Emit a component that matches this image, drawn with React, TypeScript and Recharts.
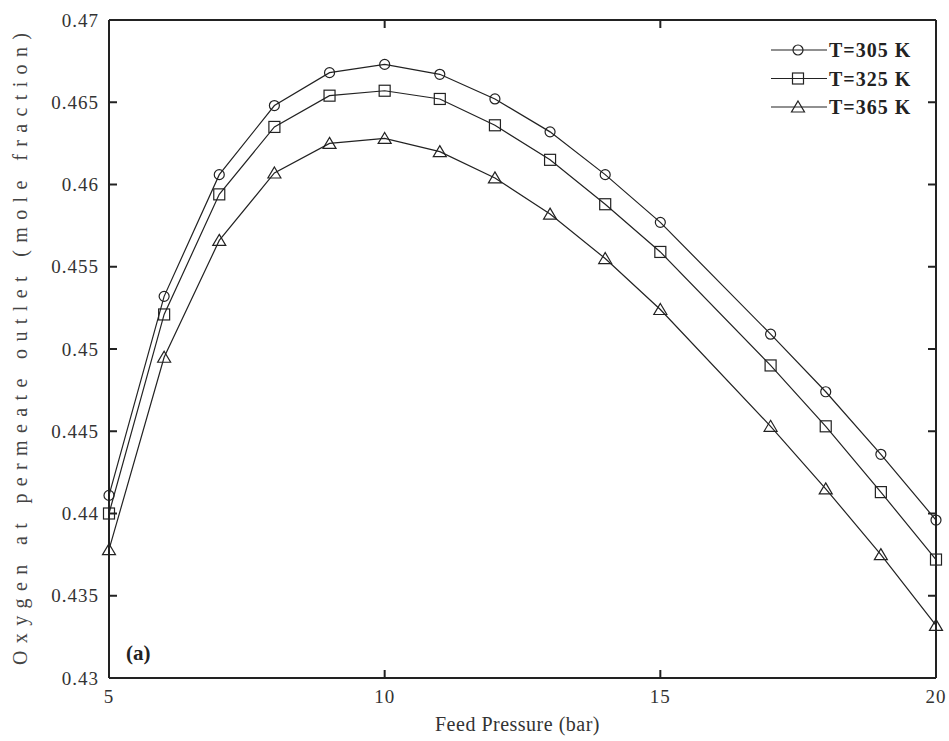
import React from 'react';
import { ComposedChart, Line, Scatter, XAxis, YAxis, Legend } from 'recharts';

// Feed pressure (bar) at which the permeate oxygen fraction was evaluated
const pressure = [5, 6, 7, 8, 9, 10, 11, 12, 13, 14, 15, 17, 18, 19, 20];

// Oxygen mole fraction at the permeate outlet for each temperature
const t305 = [0.4411, 0.4532, 0.4606, 0.4648, 0.4668, 0.4673, 0.4667, 0.4652, 0.4632, 0.4606, 0.4577, 0.4509, 0.4474, 0.4436, 0.4396];
const t325 = [0.44, 0.4521, 0.4594, 0.4635, 0.4654, 0.4657, 0.4652, 0.4636, 0.4615, 0.4588, 0.4559, 0.449, 0.4453, 0.4413, 0.4372];
const t365 = [0.4378, 0.4495, 0.4566, 0.4607, 0.4625, 0.4628, 0.462, 0.4604, 0.4582, 0.4555, 0.4524, 0.4453, 0.4415, 0.4375, 0.4332];

const xTicks = [5, 10, 15, 20];
const yTicks = [0.43, 0.435, 0.44, 0.445, 0.45, 0.455, 0.46, 0.465, 0.47];

const seriesNames = ['T=305 K', 'T=325 K', 'T=365 K'];
const seriesKeys = ['t305', 't325', 't365'];
const seriesMarkers = ['circle', 'square', 'triangle'];

const data = pressure.map((p, i) => ({ p, t305: t305[i], t325: t325[i], t365: t365[i] }));

const xMin = xTicks[0];
const xMax = xTicks[xTicks.length - 1];
const yMin = yTicks[0];
const yMax = yTicks[yTicks.length - 1];

// anchor points for the inward tick marks on each side of the frame
const leftMarks = yTicks.map((v) => ({ p: xMin, v }));
const rightMarks = yTicks.map((v) => ({ p: xMax, v }));
const bottomMarks = xTicks.map((p) => ({ p, v: yMin }));
const topMarks = xTicks.map((p) => ({ p, v: yMax }));

const INK = '#222';
const AXIS = '#222';
const SERIF = '"Liberation Serif", "DejaVu Serif", serif';
const LEN = 8;

const fmtY = (v: number) => String(Number(v.toFixed(3)));

function Marker({ kind, cx, cy }: { kind: string; cx: number; cy: number }) {
  const common = { fill: 'none', stroke: INK, strokeWidth: 1.2 };
  if (kind === 'circle') return <circle cx={cx} cy={cy} r={5} {...common} />;
  if (kind === 'square') return <rect x={cx - 5.5} y={cy - 5.5} width={11} height={11} {...common} />;
  return <polygon points={`${cx},${cy - 6} ${cx + 6.5},${cy + 5} ${cx - 6.5},${cy + 5}`} {...common} />;
}

const makeDot = (kind: string) => (props: any) => {
  const { cx, cy, index } = props;
  if (cx == null || cy == null) return <g key={`d-${kind}-${index}`} />;
  return (
    <g key={`d-${kind}-${index}`}>
      <Marker kind={kind} cx={cx} cy={cy} />
    </g>
  );
};

// short tick strokes pointing into the plot box
const makeTickMark = (dx: number, dy: number) => (props: any) => {
  const { cx, cy } = props;
  if (cx == null || cy == null) return <g />;
  return <path d={`M${cx},${cy}l${dx},${dy}`} stroke={AXIS} strokeWidth={2} fill="none" />;
};

const LeftTick = (props: any) => {
  const { x, y, payload } = props;
  return (
    <text x={x} y={y} dy="0.35em" textAnchor="end" fontFamily={SERIF} fontSize={19} letterSpacing={1} fill="#333">
      {fmtY(payload.value)}
    </text>
  );
};

const BottomTick = (props: any) => {
  const { x, y, payload } = props;
  return (
    <text x={x} y={y} dy="0.71em" textAnchor="middle" fontFamily={SERIF} fontSize={19} letterSpacing={1} fill="#333">
      {payload.value}
    </text>
  );
};

const YLabel = (props: any) => {
  const { viewBox } = props;
  const cx = 20;
  const cy = viewBox.y + viewBox.height / 2;
  return (
    <text
      x={cx}
      y={cy}
      transform={`rotate(-90 ${cx} ${cy})`}
      textAnchor="middle"
      dominantBaseline="central"
      fontFamily={SERIF}
      fontSize={20}
      textLength={632}
      lengthAdjust="spacing"
      fill="#444"
    >
      Oxygen at permeate outlet (mole fraction)
    </text>
  );
};

const XLabel = (props: any) => {
  const { viewBox } = props;
  return (
    <text
      x={viewBox.x + viewBox.width / 2 - 5}
      y={731}
      textAnchor="middle"
      fontFamily={SERIF}
      fontSize={20}
      letterSpacing={0.5}
      fill="#333"
    >
      Feed Pressure (bar)
    </text>
  );
};

const LegendBox = () => (
  <svg width={170} height={90}>
    {seriesNames.map((name, i) => {
      const y = 14 + i * 28.5;
      return (
        <g key={name}>
          <line x1={6} x2={62} y1={y} y2={y} stroke={INK} strokeWidth={1.2} />
          <Marker kind={seriesMarkers[i]} cx={33} cy={y} />
          <text x={64} y={y} dy="0.35em" fontFamily={SERIF} fontWeight="bold" fontSize={20} letterSpacing={1} fill="#222">
            {name}
          </text>
        </g>
      );
    })}
  </svg>
);

const axisLine = { stroke: AXIS, strokeWidth: 2 };

export default function App() {
  return (
    <div style={{ position: 'absolute', left: 0, top: 0, width: 949, height: 741, background: '#fff' }}>
      <ComposedChart width={949} height={741} data={data} margin={{ top: 19, right: 12, bottom: 13, left: 49 }}>
        <XAxis
          xAxisId="b"
          dataKey="p"
          type="number"
          domain={[xMin, xMax]}
          ticks={xTicks}
          interval={0}
          height={50}
          tickSize={0}
          tickMargin={12}
          tickLine={false}
          axisLine={axisLine}
          tick={BottomTick}
          label={{ content: XLabel }}
        />
        <XAxis
          xAxisId="t"
          dataKey="p"
          type="number"
          orientation="top"
          domain={[xMin, xMax]}
          ticks={xTicks}
          interval={0}
          height={1}
          tickLine={false}
          axisLine={axisLine}
          tick={false}
        />
        <YAxis
          yAxisId="l"
          type="number"
          domain={[yMin, yMax]}
          ticks={yTicks}
          interval={0}
          width={60}
          tickSize={0}
          tickMargin={10}
          tickLine={false}
          axisLine={axisLine}
          tick={LeftTick}
          label={{ content: YLabel }}
        />
        <YAxis
          yAxisId="r"
          type="number"
          orientation="right"
          domain={[yMin, yMax]}
          ticks={yTicks}
          interval={0}
          width={1}
          tickLine={false}
          axisLine={axisLine}
          tick={false}
        />
        <Legend
          layout="horizontal"
          verticalAlign="middle"
          align="center"
          content={LegendBox}
          wrapperStyle={{ left: 765, top: 36, width: 170, height: 90 }}
        />
        <Scatter xAxisId="b" yAxisId="l" data={leftMarks} dataKey="v" shape={makeTickMark(LEN, 0)} legendType="none" isAnimationActive={false} />
        <Scatter xAxisId="b" yAxisId="l" data={rightMarks} dataKey="v" shape={makeTickMark(-LEN, 0)} legendType="none" isAnimationActive={false} />
        <Scatter xAxisId="b" yAxisId="l" data={bottomMarks} dataKey="v" shape={makeTickMark(0, -LEN)} legendType="none" isAnimationActive={false} />
        <Scatter xAxisId="b" yAxisId="l" data={topMarks} dataKey="v" shape={makeTickMark(0, LEN)} legendType="none" isAnimationActive={false} />
        {seriesKeys.map((k, i) => (
          <Line
            key={k}
            xAxisId="b"
            yAxisId="l"
            type="linear"
            dataKey={k}
            name={seriesNames[i]}
            stroke={INK}
            strokeWidth={1.2}
            dot={makeDot(seriesMarkers[i])}
            activeDot={false}
            isAnimationActive={false}
          />
        ))}
      </ComposedChart>
      <div
        style={{
          position: 'absolute',
          left: 126,
          top: 640,
          fontFamily: SERIF,
          fontWeight: 'bold',
          fontSize: 21,
          color: '#222',
          lineHeight: '26px',
        }}
      >
        (a)
      </div>
    </div>
  );
}
